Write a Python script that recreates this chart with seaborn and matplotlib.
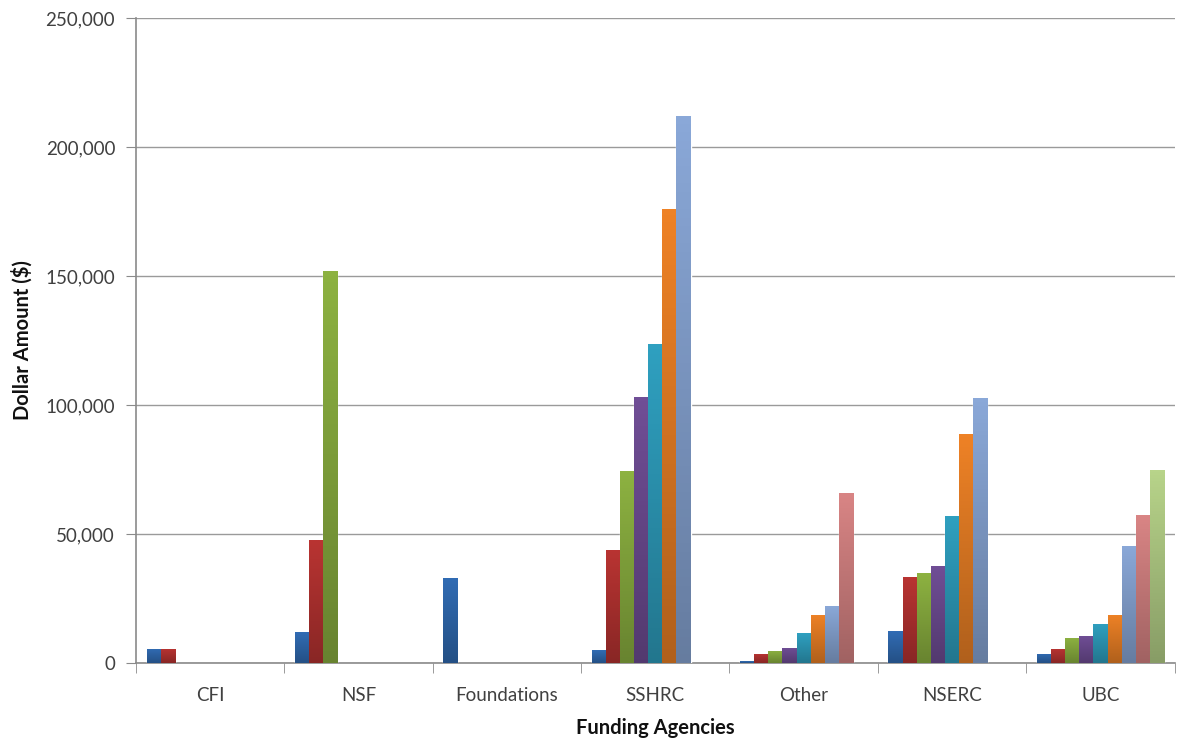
import numpy as np
import pandas as pd
import matplotlib
matplotlib.use('Agg')
import matplotlib.pyplot as plt
import matplotlib.colors as mcolors
import seaborn as sns

# ─── DATA ─────────────────────────────────────────────────────────────────────
AGENCIES = ['CFI', 'NSF', 'Foundations', 'SSHRC', 'Other', 'NSERC', 'UBC']
SERIES = ['Series 1', 'Series 2', 'Series 3', 'Series 4', 'Series 5',
          'Series 6', 'Series 7', 'Series 8', 'Series 9']

CFI         = [5500, 5500]
NSF         = [12000, 47500, 152000]
FOUNDATIONS = [33000]
SSHRC       = [5000, 44000, 74500, 103000, 123500, 176000, 212000]
OTHER       = [600, 3500, 4700, 6000, 11500, 18800, 22000, 66000]
NSERC       = [12300, 33500, 34800, 37800, 56900, 88800, 102700]
UBC         = [3500, 5600, 9700, 10600, 15300, 18700, 45500, 57300, 75000]

COLORS = ['#316CB4', '#B93432', '#8DB241', '#704E96', '#2FA0C0',
          '#EE8226', '#8AA8D8', '#D98585', '#B8D48A']

Y_TICKS = [0, 50000, 100000, 150000, 200000, 250000]

# ─── FRAME ────────────────────────────────────────────────────────────────────
values = [CFI, NSF, FOUNDATIONS, SSHRC, OTHER, NSERC, UBC]
rows = []
for agency, vals in zip(AGENCIES, values):
    for s, v in zip(SERIES, vals):
        rows.append({'agency': agency, 'series': s, 'amount': v})
df = pd.DataFrame(rows)

# ─── PLOT ─────────────────────────────────────────────────────────────────────
sns.set_style('white')
plt.rcParams['font.family'] = ['Lato', 'DejaVu Sans']

fig = plt.figure(figsize=(11.77, 7.40), dpi=100)
ax = fig.add_axes([0.1155, 0.104, 0.8825, 0.8717])

sns.barplot(data=df, x='agency', y='amount', hue='series',
            order=AGENCIES, hue_order=SERIES, palette=COLORS,
            width=9 / 10.5, saturation=1, legend=False, ax=ax, zorder=3)

# Excel-style vertical gradient on each bar
for p in list(ax.patches):
    bb = p.get_bbox()
    if bb.height <= 0:
        continue
    top = np.array(mcolors.to_rgb(p.get_facecolor()))
    bot = top * 0.74
    grad = np.linspace(top, bot, 64).reshape(64, 1, 3)
    im = ax.imshow(grad, extent=(bb.x0, bb.x1, bb.y0, bb.y1),
                   aspect='auto', origin='upper', zorder=4)
    im.set_clip_path(p)

ax.set_xlim(-0.5, len(AGENCIES) - 0.5)
ax.set_ylim(0, 250000)
ax.set_yticks(Y_TICKS)
ax.set_yticklabels([f'{v:,}' for v in Y_TICKS])
ax.set_xticks(range(len(AGENCIES)))
ax.set_xticklabels(AGENCIES)
ax.set_xticks(np.arange(-0.5, len(AGENCIES), 1), minor=True)

ax.yaxis.grid(True, color='#9a9a9a', linewidth=1)
ax.set_axisbelow(True)
for side in ['top', 'right']:
    ax.spines[side].set_visible(False)
for side in ['left', 'bottom']:
    ax.spines[side].set_color('#8a8a8a')
    ax.spines[side].set_linewidth(1.2)

ax.tick_params(axis='y', which='major', length=7, color='#8a8a8a',
               labelsize=13.5, labelcolor='#404040', pad=8, left=True)
ax.tick_params(axis='x', which='major', length=0, labelsize=13.5,
               labelcolor='#404040', pad=17)
ax.tick_params(axis='x', which='minor', length=7, color='#8a8a8a',
               bottom=True)

ax.set_xlabel('Funding Agencies', fontsize=14.5, fontweight='bold',
              labelpad=10, color='#111111')
ax.set_ylabel('Dollar Amount ($)', fontsize=14.5, fontweight='bold',
              labelpad=9, color='#111111')

plt.savefig('out.png', dpi=100)
plt.close()
